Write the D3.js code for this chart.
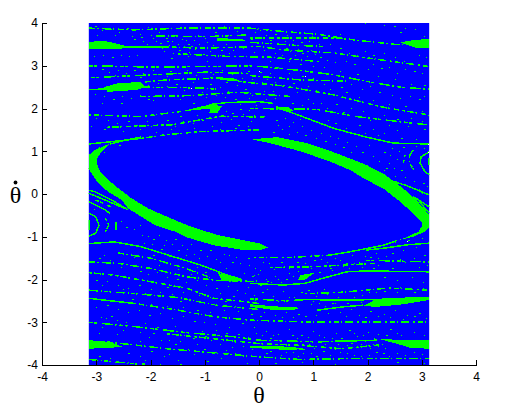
<!DOCTYPE html>
<!-- Phase portrait of the driven pendulum: basin map over theta / theta-dot -->
<meta charset="utf-8">
<style>
    body { margin: 0; background: white; }
    .axis text { font-family: "Liberation Sans", Arial, sans-serif; font-size: 12px; fill: black; }
    .axis path, .axis line { fill: none; stroke: black; shape-rendering: crispEdges; }
    .label { font-family: "Liberation Serif", serif; font-size: 24px; fill: black; }
</style>
<body>
<svg class="chart"></svg>
<script src="https://cdn.jsdelivr.net/npm/d3@7"></script>
<script>

var tickValues = [-4, -3, -2, -1, 0, 1, 2, 3, 4];
var tickLabels = ["-4", "-3", "-2", "-1", "0", "1", "2", "3", "4"];
var imageExtent = [-3.1416, 3.1416];

// Solid green regions, [theta, thetaDot]
var crescentLower = [[-3.14,.91],[-3.02,1.03],[-2.84,1.13],[-2.75,1.17],[-2.9,.99],[-2.99,.83],[-2.99,.72],[-2.93,.52],[-2.78,.33],[-2.59,.13],[-2.35,-.1],[-2.04,-.34],[-1.55,-.61],[-1.32,-.73],[-.77,-.96],[.03,-1.16],[.16,-1.25],[.03,-1.31],[-.34,-1.3],[-.83,-1.2],[-1.32,-1.02],[-1.55,-.88],[-1.92,-.73],[-2.22,-.49],[-2.41,-.34],[-2.53,-.14],[-2.78,.05],[-2.96,.25],[-3.11,.52],[-3.14,.6]];
var crescentUpper = [[-.135,1.28],[.33,1.33],[.88,1.19],[1.37,.98],[1.68,.83],[1.98,.68],[2.29,.48],[2.41,.37],[2.66,.13],[2.9,-.14],[3.06,-.37],[3.14,-.49],[3.14,-.78],[3.06,-.88],[2.84,-1],[2.54,-1.09],[2.72,-1.01],[2.94,-.88],[3,-.76],[3,-.65],[2.84,-.45],[2.6,-.18],[2.29,.13],[1.98,.33],[1.68,.56],[1.31,.76],[.76,1],[.2,1.19]];
var blobs = [
    [[2.6,3.55],[2.85,3.6],[3.14,3.63],[3.14,3.42],[2.9,3.42],[2.75,3.48]],
    [[-3.14,3.55],[-2.91,3.59],[-2.73,3.55],[-2.48,3.47],[-2.42,3.42],[-2.68,3.38],[-3.14,3.39]],
    [[-2.86,2.5],[-2.61,2.59],[-2.18,2.62],[-2.12,2.53],[-2.18,2.45],[-2.42,2.42],[-2.79,2.39]],
    [[-.71,2.73],[-.45,2.7],[-.3,2.62],[-.71,2.67]],
    [[-.77,3.65],[-.3,3.62],[-.25,3.58],[-.77,3.59]],
    [[-1.44,1.93],[-.92,2.09],[-.68,2.06],[-.77,1.89],[-.92,1.89],[-.89,2]],
    [[.31,2.05],[.55,2.03],[.63,1.95],[.45,1.95],[.31,2]],
    [[-.75,-1.85],[-.31,-1.99],[-.31,-2.03],[-.55,-2.05],[-.7,-2]],
    [[.76,-1.9],[1.03,-1.84],[.85,-2],[.72,-2.02]],
    [[2.17,-2.45],[2.72,-2.42],[3.14,-2.41],[3.14,-2.48],[2.66,-2.58],[2.17,-2.64],[1.92,-2.62]],
    [[-.17,-2.58],[.33,-2.63],[.76,-2.66],[.63,-2.72],[.33,-2.72],[-.17,-2.64]],
    [[-3.14,-3.42],[-2.9,-3.44],[-2.7,-3.48],[-2.5,-3.58],[-2.8,-3.6],[-3.14,-3.62]],
    [[2.17,-3.38],[2.66,-3.42],[3.14,-3.42],[3.14,-3.62],[2.78,-3.6],[2.54,-3.5]],
    [[.05,-3.55],[.4,-3.56],[.85,-3.62],[.6,-3.65],[.05,-3.62]]
];

// Thin continuous filaments
var solidWisps = [
    [[-2.75,1.17],[-2.47,1.26],[-2.18,1.33]],
    [[-3.14,1.17],[-2.67,1.23],[-2.18,1.3]],
    [[-.92,2.09],[-.58,2.14],[0,2.16],[.26,2.12]],
    [[.31,2.03],[.63,1.89],[1.37,1.54],[1.98,1.33],[2.48,1.19],[3.14,1.17]],
    [[3.14,.99],[2.99,.87],[2.97,.72],[3.06,.52],[3.14,.45]],
    [[3.13,.84],[3.13,.68]],
    [[-3.01,-.53],[-2.95,-.73],[-3.01,-.92],[-3.14,-.99]],
    [[-3.14,-.45],[-3.01,-.53]],
    [[-3.13,-.61],[-3.13,-.84]],
    [[2.54,-1.09],[2.29,-1.2],[1.68,-1.35],[1.31,-1.43]],
    [[3.14,-1.15],[2.72,-1.19],[2.29,-1.27],[1.98,-1.31]],
    [[-3.14,-1.16],[-2.67,-1.12],[-2.18,-1.23],[-1.57,-1.47],[-1.08,-1.66],[-.58,-1.9],[-.31,-2]],
    [[2.94,-.14],[3.06,-.34],[3.14,-.45]],
    [[.85,-2.09],[1.15,-1.98],[1.62,-1.82],[1.98,-1.8],[3.14,-1.82]],
    [[-.17,-2.09],[.45,-2.13],[.85,-2.09]],
    [[-3.14,3.47],[-2.42,3.44],[-1.69,3.44]],
    [[2.17,-3.42],[1.4,-3.44]],
    [[-3.14,2.44],[-2.8,2.46]],
    [[-3.14,-2.44],[-2.3,-2.56]],
    [[-.17,-3.58],[.2,-3.58],[.63,-3.6],[.85,-3.64]],
    [[.85,-2.47],[1.55,-2.48],[2.17,-2.47]],
    [[1.06,-2.72],[1.55,-2.64],[1.92,-2.6]],
    [[-2.41,-.37],[-2.72,-.14],[-3.02,.05],[-3.14,.09]],
    [[-3.14,.02],[-2.84,-.14],[-2.41,-.37]],
    [[-3.14,-.18],[-2.84,-.37],[-2.75,-.45]],
    [[2.38,.33],[2.69,.21],[3.14,-.02]],
    [[2.84,-.06],[3.14,-.3]]
];

// Broken filaments
var brokenStreaks = [
    [[-3.14,3.88],[-2.3,3.84],[-1.38,3.88],[-.17,3.88],[.45,3.8],[1.06,3.74],[1.78,3.6],[2.5,3.5],[3.14,3.5]],
    [[-.17,3.65],[.45,3.65],[1.4,3.65],[1.8,3.6]],
    [[-.17,3.55],[.63,3.48],[1.2,3.45]],
    [[-1.69,3.44],[-1.07,3.41],[0,3.45],[.45,3.37],[1.37,3.3],[2.29,3.13],[3.14,2.98]],
    [[-3.14,3],[-2,2.97],[-1,2.98],[-.17,3],[.15,2.97],[.75,2.89],[1.37,2.79],[2,2.63],[2.6,2.5],[3.14,2.45]],
    [[-2.1,2.62],[-1.7,2.67],[-1,2.7],[-.7,2.72]],
    [[-.3,2.62],[.45,2.53],[1.37,2.32],[2.29,2.03],[3.14,1.85]],
    [[-2.18,2.5],[-1.01,2.48],[-.8,2.45]],
    [[-3.14,1.85],[-2.18,1.81],[-1.69,1.89],[-1.44,1.93]],
    [[-.17,2],[1.06,1.98],[1.8,1.81],[2.6,1.69],[3.1,1.62]],
    [[-.17,2.77],[.75,2.67],[1.6,2.64]],
    [[-2.18,1.3],[-1.75,1.38],[-1.07,1.46],[0,1.5]],
    [[2.84,1.03],[2.77,.88],[2.78,.72],[2.89,.48]],
    [[2.69,.91],[2.66,.72]],
    [[-3.01,-.14],[-2.73,-.3]],
    [[-3.14,.6],[-2.98,.4]],
    [[-2.83,-.57],[-2.77,-.73],[-2.83,-.88]],
    [[-2.64,-.65],[-2.64,-.84]],
    [[-.1,-1.48],[.63,-1.48],[1.31,-1.43]],
    [[1.98,-1.55],[3.14,-1.59]],
    [[-3.14,-1.59],[-2.61,-1.62],[-2,-1.74],[-1.32,-1.94],[-.77,-2.02],[0,-2.05]],
    [[-3.14,-1.84],[-2.67,-1.9],[-2,-2.05],[-1.32,-2.21],[-.83,-2.44],[0,-2.56]],
    [[-3.14,-2.25],[-2.3,-2.33],[-1.5,-2.42],[-.8,-2.6],[0,-2.7]],
    [[-2.3,-2.56],[-1.57,-2.7],[-.83,-2.87],[-.17,-2.95],[.75,-2.99],[1.68,-2.99],[3.1,-2.99]],
    [[-3.14,-3],[-2.3,-3.1],[-1.44,-3.23],[-.46,-3.34],[0,-3.42],[.6,-3.44],[1.06,-3.46],[2.17,-3.42]],
    [[-2.8,-3.46],[-1.69,-3.62],[0,-3.81],[.75,-3.87],[1.68,-3.85],[3.14,-3.85]],
    [[-1.69,-3.27],[0,-3.5],[.75,-3.54],[1.54,-3.62],[2.29,-3.52]],
    [[-3.14,-3.87],[-2.3,-3.97],[-2.1,-3.98]],
    [[.85,-2.33],[1.5,-2.3],[2.4,-2.2],[3.14,-2.25]],
    [[-.17,-2.45],[.5,-2.5],[.85,-2.47]],
    [[-2.6,-1.38],[-2,-1.5],[-1.4,-1.72],[-.9,-1.95]],
    [[.2,-1.72],[1,-1.7],[2.2,-1.62]],
    [[-1.9,3.7],[-1,3.68],[-.2,3.72]],
    [[-1.5,3.28],[-.6,3.22],[.2,3.2],[1.1,3.1]],
    [[-3.1,2.72],[-2.1,2.78],[-1,2.85],[-.2,2.82]],
    [[-2.2,2.28],[-1.3,2.3],[-.4,2.38],[.6,2.28]],
    [[-2.8,1.56],[-1.6,1.62],[-.7,1.82],[.1,1.8]]
];

// Isolated points, one list per quadrant
var specksUpperLeft = [[-3.02,3.92],[-2.9,3.83],[-2.72,3.86],[-2.58,3.8],[-2.44,3.88],[-2.2,3.75],[-2.05,3.9],[-1.85,3.79],[-1.72,3.66],[-1.61,3.58],[-1.55,3.71],[-1.42,3.63],[-1.31,3.52],[-1.2,3.61],[-1.12,3.72],[-.95,3.55],[-.82,3.78],[-.64,3.92],[-.4,3.82],[-.28,3.75],[-2.3,3.62],[-2.14,3.57],[-2.06,3.5],[-1.95,3.64],[-1.83,3.53],[-1.76,3.35],[-1.66,3.49],[-1.58,3.3],[-1.48,3.38],[-1.39,3.47],[-1.29,3.33],[-1.18,3.4],[-1.04,3.27],[-.9,3.34],[-.72,3.24],[-.55,3.3],[-.36,3.22],[-.1,3.33],[-3.05,3.22],[-2.88,3.25],[-2.71,3.21],[-2.55,3.26],[-2.4,3.22],[-2.25,3.24],[-2.9,2.92],[-2.77,2.85],[-2.6,2.89],[-2.45,2.82],[-2.3,2.9],[-2.13,2.84],[-1.96,2.91],[-1.8,2.8],[-1.64,2.87],[-1.5,2.83],[-1.33,2.89],[-1.17,2.79],[-1.02,2.86],[-.85,2.81],[-.68,2.89],[-.5,2.8],[-.21,2.87],[-2.05,2.55],[-1.87,2.6],[-1.7,2.52],[-1.53,2.57],[-1.38,2.44],[-1.22,2.62],[-1.05,2.38],[-.9,2.58],[-.72,2.5],[-.58,2.4],[-.4,2.56],[-.25,2.45],[-.12,2.31],[-3.03,2.33],[-2.86,2.29],[-2.7,2.22],[-2.52,2.3],[-2.36,2.25],[-2.2,2.31],[-2.04,2.23],[-3,1.78],[-2.78,1.72],[-2.61,1.66],[-2.42,1.7],[-2.24,1.62],[-2.06,1.7],[-1.88,1.64],[-1.7,1.72],[-1.55,1.6],[-1.4,1.7],[-1.21,1.66],[-1.05,1.74],[-.87,1.6],[-.7,1.68],[-.52,1.76],[-.38,1.62],[-.15,1.7],[-.3,1.88],[-.18,1.97],[-.5,1.9],[-3.1,1.6],[-1.9,1.46],[-1.62,1.52],[-1.35,1.42],[-1.2,1.55],[-.95,1.48],[-.72,1.52],[-.45,1.55],[-.2,1.58],[-2.5,1.26],[-2.33,1.31],[-2.58,1.15],[-2.86,.99],[-2.95,1.1],[-2.35,3.7],[-2.18,3.68],[-2,3.72],[-1.9,3.58],[-1.78,3.42],[-1.7,3.58],[-1.5,3.52],[-1.45,3.28],[-1.34,3.6],[-1.25,3.46],[-1.1,3.52],[-1,3.64],[-.85,3.48],[-.7,3.38],[-.6,3.5],[-.48,3.36],[-.3,3.42],[-.15,3.62],[-.08,3.78],[-2.98,3.72],[-2.66,3.72],[-1.62,3.18],[-1.3,3.22],[-.95,3.12],[-2.65,2.78],[-2.2,2.74],[-1.7,2.76],[-1.4,2.72],[-.9,2.74],[-.6,2.62],[-.32,2.72],[-.12,2.68],[-2.9,2.14],[-2.55,2.12],[-1.95,2.2],[-1.62,2.32],[-1.45,2.22],[-1.22,2.14],[-.98,2.26],[-.8,2.32],[-.62,2.26],[-.45,2.22],[-.35,2.1],[-.18,2.25],[-.05,2.08],[-2.85,1.52],[-2.5,1.48],[-2.2,1.52],[-2,1.58],[-1.45,1.82],[-1.15,1.85],[-.6,1.95],[-.9,1.8],[-.35,1.98],[-.1,1.85]];
var specksUpperRight = [[.02,3.83],[.12,3.73],[.3,3.75],[.52,3.72],[.7,3.68],[.98,3.7],[1.2,3.72],[1.5,3.75],[1.95,3.99],[2.3,3.95],[2.48,3.92],[2.7,3.88],[2.88,3.86],[3.05,3.7],[2.6,3.78],[.1,3.38],[.3,3.3],[.42,3.25],[.5,3.42],[.58,3.34],[.66,3.26],[.72,3.4],[.8,3.3],[.88,3.22],[.95,3.36],[1.03,3.28],[1.12,3.2],[1.25,3.14],[1.4,3.08],[1.6,3.12],[1.75,3.03],[1.9,3.2],[2,2.92],[2.1,3.05],[2.25,2.95],[2.4,2.98],[2.55,2.82],[2.7,2.93],[2.85,2.88],[3,2.82],[3.08,3.2],[2.95,3.26],[.02,2.86],[.2,2.82],[.4,2.74],[.55,2.83],[.8,2.76],[1,2.72],[1.2,2.58],[1.35,2.66],[1.52,2.5],[1.7,2.57],[1.9,2.46],[2.05,2.52],[2.22,2.38],[2.45,2.32],[2.6,2.25],[2.78,2.3],[2.95,2.22],[3.05,2.3],[.1,2.4],[.25,2.42],[.5,2.3],[.7,2.38],[.9,2.22],[1.15,2.13],[1.42,2.1],[1.7,2.02],[1.92,1.95],[2.3,1.85],[2.55,1.75],[2.8,1.78],[3,1.7],[.1,1.82],[.32,1.72],[.48,1.78],[.62,1.68],[.8,1.6],[.95,1.72],[1.1,1.65],[1.28,1.72],[1.6,1.55],[1.85,1.62],[2.1,1.52],[2.3,1.42],[2.55,1.5],[.25,1.45],[.42,1.52],[.55,1.4],[.7,1.46],[.85,1.38],[.96,1.5],[1.05,1.32],[1.15,1.42],[1.22,1.24],[1.3,1.35],[1.4,1.18],[1.46,1.32],[1.55,1.1],[1.63,1.22],[1.7,.98],[1.78,1.12],[1.9,.98],[2.02,1.14],[2.1,.9],[2.22,.78],[2.3,.98],[2.4,.72],[2.48,.6],[2.55,.82],[2.62,.55],[2.5,.42],[2.7,.4],[2.85,.3],[3.02,.25],[2.95,.12],[3.1,.18],[.05,3.55],[.2,3.6],[.35,3.52],[.48,3.58],[.62,3.6],[.78,3.55],[.92,3.58],[1.1,3.52],[1.3,3.5],[1.5,3.42],[1.65,3.3],[1.8,3.25],[1.95,3.35],[2.1,3.25],[2.3,3.3],[2.5,3.2],[2.68,3.12],[2.82,3.05],[.05,3.2],[.2,3.12],[.55,3.1],[.75,3.05],[1,3],[1.2,2.98],[1.5,2.88],[1.8,2.8],[2.2,2.75],[2.5,2.68],[2.8,2.58],[3.05,2.55],[.05,2.62],[.15,2.7],[.3,2.62],[.62,2.6],[.9,2.52],[1.05,2.44],[1.3,2.46],[1.6,2.38],[1.85,2.28],[2.1,2.2],[2.4,2.1],[2.7,2.05],[3,1.95],[.12,2.22],[.3,2.25],[.6,2.12],[.8,2.08],[1,2.12],[1.25,2.02],[1.55,1.92],[2.05,1.72],[2.4,1.62],[2.75,1.58],[3.05,1.52],[.35,1.62],[.55,1.6],[.75,1.75],[1.4,1.65],[1.7,1.45],[1.95,1.42],[2.2,1.38],[2.62,1.3],[2.9,1.28],[2.45,1.08],[2.58,1],[2.65,1.1],[2.9,1.12],[3.05,1.08],[2.42,.92],[2.35,.6],[2.52,.3],[2.3,.55],[3,.02],[2.72,.02],[2.58,.05]];
var specksLowerLeft = [[-3.05,-.35],[-2.55,-.62],[-2.45,-.78],[-2.3,-.82],[-2.2,-.72],[-2.05,-.98],[-1.95,-1.06],[-1.85,-.95],[-1.72,-1.08],[-1.6,-1.18],[-1.5,-1.3],[-1.42,-1.2],[-1.32,-1.28],[-1.2,-1.4],[-1.08,-1.32],[-.95,-1.45],[-.8,-1.52],[-.65,-1.4],[-.5,-1.58],[-.35,-1.62],[-.18,-1.65],[-2.12,-1.15],[-1.8,-1.28],[-1.65,-1.45],[-1.4,-1.55],[-1.15,-1.7],[-2.95,-1.5],[-2.75,-1.55],[-2.55,-1.7],[-2.36,-1.66],[-2.2,-1.8],[-2.05,-1.88],[-1.88,-1.83],[-1.7,-1.95],[-1.52,-1.98],[-1.34,-2.06],[-1.15,-2.02],[-.98,-2.12],[-.8,-2.2],[-.58,-2.16],[-.4,-2.24],[-.2,-2.18],[-3,-2],[-2.8,-2.04],[-2.6,-2.12],[-2.42,-2.2],[-2.22,-2.14],[-2,-2.22],[-1.82,-2.3],[-1.6,-2.34],[-1.45,-2.5],[-1.22,-2.48],[-1.02,-2.56],[-.9,-2.4],[-.62,-2.5],[-.35,-2.48],[-.1,-2.36],[-3,-2.65],[-2.8,-2.6],[-2.6,-2.7],[-2.42,-2.76],[-2.22,-2.72],[-2.02,-2.82],[-1.82,-2.78],[-1.6,-2.9],[-1.4,-2.85],[-1.2,-2.96],[-1.02,-3],[-.82,-3.04],[-.55,-3.1],[-.32,-3.02],[-.1,-3.12],[-2.92,-2.88],[-2.82,-2.9],[-2.72,-2.86],[-2.62,-2.95],[-2.45,-3],[-2.1,-3.02],[-1.88,-3.1],[-1.72,-3.16],[-1.55,-3.08],[-1.38,-3.3],[-1.22,-3.38],[-1.05,-3.2],[-.88,-3.42],[-.72,-3.5],[-.6,-3.25],[-.45,-3.46],[-.3,-3.55],[-.12,-3.62],[-2.38,-3.5],[-2.2,-3.44],[-2.02,-3.35],[-1.8,-3.42],[-1.55,-3.52],[-2.95,-3.25],[-2.62,-3.28],[-2.2,-3.78],[-2,-3.68],[-1.75,-3.8],[-1.5,-3.88],[-1.2,-3.75],[-.95,-3.9],[-.7,-3.84],[-.45,-3.72],[-.22,-3.95],[-2.95,-3.78],[-2.75,-3.84],[-2.6,-3.92],[-1.82,-3.98],[-1.45,-3.97],[-2.15,-.95],[-1.98,-1.18],[-1.75,-1.2],[-1.55,-1.05],[-1.35,-1.42],[-1.25,-1.18],[-1.1,-1.5],[-.9,-1.3],[-.72,-1.6],[-.55,-1.42],[-.42,-1.48],[-.2,-1.5],[-.08,-1.72],[-2.85,-1.42],[-2.3,-1.48],[-1.95,-1.42],[-1.85,-1.65],[-1.5,-1.75],[-1.25,-1.88],[-1,-1.82],[-.88,-1.72],[-.6,-1.74],[-.28,-1.85],[-.12,-1.92],[-2.9,-2.12],[-2.5,-2.22],[-2.1,-2.32],[-1.7,-2.18],[-1.4,-2.3],[-1.1,-2.36],[-.72,-2.32],[-.48,-2.38],[-.25,-2.32],[-.08,-2.48],[-2.7,-2.48],[-2.35,-2.46],[-2,-2.58],[-1.7,-2.62],[-1.4,-2.65],[-1.15,-2.72],[-.9,-2.75],[-.65,-2.72],[-.38,-2.74],[-.15,-2.8],[-2.9,-3.12],[-2.5,-3.18],[-2.2,-3.22],[-1.95,-3.25],[-1.65,-3.42],[-1.45,-3.44],[-1.15,-3.5],[-1,-3.32],[-.8,-3.18],[-.7,-3.32],[-.5,-3.58],[-.38,-3.28],[-.2,-3.34],[-.05,-3.25],[-1.3,-3.62],[-1.02,-3.62],[-.8,-3.7],[-.6,-3.65],[-.3,-3.78],[-2.42,-3.72],[-2.1,-3.88],[-1.65,-3.74]];
var specksLowerRight = [[3,-1.02],[2.75,-1.08],[2.5,-1.12],[2.35,-1.45],[2.15,-1.38],[2.05,-1.48],[1.72,-1.42],[1.5,-1.55],[1.25,-1.6],[1.02,-1.55],[.85,-1.62],[.55,-1.72],[.72,-1.8],[.4,-1.58],[.18,-1.62],[.02,-1.78],[.3,-1.92],[.5,-1.98],[.12,-1.98],[-.05,-2.02],[.22,-2.06],[.02,-2.12],[-.1,-1.9],[.4,-2.05],[.62,-1.92],[1.3,-1.72],[1.55,-1.68],[1.75,-1.62],[2.2,-1.65],[2.45,-1.72],[2.7,-1.6],[2.95,-1.7],[3.1,-1.65],[2.3,-1.95],[2.55,-2],[2.82,-1.95],[3.02,-2.05],[.05,-2.3],[.25,-2.38],[.45,-2.28],[.65,-2.4],[.9,-2.25],[1.05,-2.38],[1.25,-2.34],[1.45,-2.4],[1.7,-2.28],[1.9,-2.36],[2.15,-2.3],[2.6,-2.18],[2.85,-2.3],[.1,-2.75],[.3,-2.82],[.5,-2.76],[.72,-2.8],[.95,-2.58],[1.1,-2.55],[1.22,-2.62],[1.35,-2.56],[1.5,-2.76],[1.7,-2.7],[1.85,-2.82],[2.05,-2.74],[2.3,-2.8],[2.5,-2.72],[2.72,-2.82],[2.95,-2.78],[.12,-3.2],[.35,-3.28],[.55,-3.16],[.78,-3.3],[1,-3.2],[1.2,-3.34],[1.42,-3.26],[1.65,-3.18],[1.8,-3.32],[2,-3.22],[2.2,-3.28],[2.42,-3.16],[2.62,-3.3],[2.85,-3.22],[3.05,-3.3],[.2,-3.36],[.45,-3.5],[.7,-3.36],[.92,-3.52],[1.15,-3.55],[1.3,-3.58],[1.45,-3.5],[1.62,-3.54],[1.78,-3.58],[1.95,-3.45],[2.05,-3.6],[2.2,-3.55],[.12,-3.72],[.4,-3.76],[.62,-3.7],[.82,-3.72],[1.05,-3.8],[1.3,-3.76],[1.62,-3.72],[1.88,-3.78],[2.15,-3.7],[2.4,-3.8],[2.7,-3.76],[3,-3.74],[.3,-3.95],[.8,-3.93],[1.4,-3.97],[2,-3.95],[2.55,-3.92],[3.05,-3.95],[2.9,-1.25],[2.65,-1.3],[2.45,-1.38],[2.2,-1.5],[1.95,-1.44],[1.85,-1.58],[1.6,-1.62],[1.4,-1.5],[1.15,-1.52],[.95,-1.72],[.7,-1.6],[.28,-1.75],[.08,-1.6],[-.02,-1.88],[.15,-2.03],[.35,-1.98],[.55,-1.85],[.9,-1.88],[1.1,-1.82],[1.35,-1.78],[1.65,-1.74],[1.9,-1.7],[2.1,-1.72],[2.35,-1.56],[2.6,-1.52],[2.85,-1.5],[3.05,-1.42],[.15,-2.22],[.35,-2.5],[.55,-2.42],[.78,-2.3],[1,-2.5],[1.2,-2.22],[1.4,-2.55],[1.62,-2.55],[1.75,-2.42],[1.88,-2.52],[2.02,-2.3],[2.3,-2.28],[2.55,-2.3],[2.75,-2.22],[3.02,-2.2],[.02,-2.85],[.2,-2.7],[.42,-2.88],[.62,-2.88],[.85,-2.85],[1.05,-2.82],[1.28,-2.78],[1.6,-2.85],[1.95,-2.88],[2.2,-2.85],[2.42,-2.88],[2.65,-2.92],[2.85,-2.85],[3.08,-2.9],[.05,-3.3],[.25,-3.3],[.6,-3.3],[.9,-3.35],[1.1,-3.3],[1.35,-3.36],[1.52,-3.36],[1.75,-3.25],[1.92,-3.3],[2.12,-3.36],[2.35,-3.3],[2.55,-3.25],[.3,-3.42],[.55,-3.52],[.8,-3.5],[1.02,-3.6],[1.22,-3.5],[1.4,-3.62],[1.7,-3.48],[1.88,-3.52],[2.1,-3.5],[2.32,-3.6],[.2,-3.68],[.5,-3.7],[.72,-3.78],[.95,-3.72],[1.18,-3.68],[1.5,-3.7],[1.75,-3.76],[2.02,-3.76],[2.28,-3.72],[2.55,-3.72],[2.85,-3.7]];
var whiteSpecks = [[-1.26,2.49],[0,2.87],[.85,2.75],[3.12,1.18],[3.13,1.04],[3.12,.98],[2.72,-1.1]];

// Chart size and margins in the window
var margin = { top: 23, right: 35, left: 42, bottom: 47 };
var width = 511 - margin.left - margin.right;
var height = 412 - margin.top - margin.bottom;

var svg = d3.select(".chart")
    .attr("width", 511)
    .attr("height", 412)
    .style("display", "block");

var chart = svg.append("g")
    .attr("transform", "translate(" + margin.left + "," + margin.top + ")");

var x = d3.scaleLinear().domain([-4, 4]).range([0, width]);
var y = d3.scaleLinear().domain([-4, 4]).range([height, 0]);

svg.append("defs").append("clipPath").attr("id", "image-clip")
  .append("rect")
    .attr("x", x(imageExtent[0]))
    .attr("y", 0)
    .attr("width", x(imageExtent[1]) - x(imageExtent[0]))
    .attr("height", height);

var map = chart.append("g").attr("clip-path", "url(#image-clip)");

// Blue background
map.append("rect")
    .attr("x", x(imageExtent[0]))
    .attr("y", 0)
    .attr("width", x(imageExtent[1]) - x(imageExtent[0]))
    .attr("height", height)
    .attr("fill", "#0000ff");

var line = d3.line().x(function(d) { return x(d[0]); }).y(function(d) { return y(d[1]); });

map.selectAll("path.blob")
    .data([crescentLower, crescentUpper].concat(blobs))
  .enter().append("path")
    .attr("class", "blob")
    .attr("d", function(d) { return line(d) + "Z"; })
    .attr("fill", "#00ff00")
    .attr("shape-rendering", "crispEdges");

map.selectAll("path.wisp")
    .data(solidWisps)
  .enter().append("path")
    .attr("class", "wisp")
    .attr("d", line)
    .attr("fill", "none")
    .attr("stroke", "#00ff00")
    .attr("stroke-width", 1.5)
    .attr("shape-rendering", "crispEdges");

// A handful of dash patterns so the breaks do not line up
var dashes = ["6 2 2 3 9 2 1 4", "3 2 7 1 2 4 5 3", "9 3 1 2 4 1 2 5", "2 3 5 2 1 3 8 4", "4 1 3 5 11 2 2 3"];

map.selectAll("path.streak")
    .data(brokenStreaks)
  .enter().append("path")
    .attr("class", "streak")
    .attr("d", line)
    .attr("fill", "none")
    .attr("stroke", "#00ff00")
    .attr("stroke-width", 1.5)
    .attr("stroke-dasharray", function(d, i) { return dashes[i % dashes.length]; })
    .attr("shape-rendering", "crispEdges");

map.selectAll("rect.speck")
    .data(specksUpperLeft.concat(specksUpperRight, specksLowerLeft, specksLowerRight))
  .enter().append("rect")
    .attr("class", "speck")
    .attr("x", function(d) { return Math.round(x(d[0])); })
    .attr("y", function(d) { return Math.round(y(d[1])); })
    .attr("width", function(d, i) { return i % 4 == 0 ? 2 : 1; })
    .attr("height", 1)
    .attr("fill", "#00ff00")
    .attr("shape-rendering", "crispEdges");

map.selectAll("rect.white")
    .data(whiteSpecks)
  .enter().append("rect")
    .attr("class", "white")
    .attr("x", function(d) { return Math.round(x(d[0])); })
    .attr("y", function(d) { return Math.round(y(d[1])); })
    .attr("width", 1)
    .attr("height", 1)
    .attr("fill", "white")
    .attr("shape-rendering", "crispEdges");

// Axes, ticks point inward
chart.append("g")
    .attr("class", "x axis")
    .attr("transform", "translate(0," + height + ")")
    .call(d3.axisBottom(x)
        .tickValues(tickValues)
        .tickFormat(function(d, i) { return tickLabels[i]; })
        .tickSizeInner(-5)
        .tickSizeOuter(0)
        .tickPadding(7));

chart.append("g")
    .attr("class", "y axis")
    .call(d3.axisLeft(y)
        .tickValues(tickValues)
        .tickFormat(function(d, i) { return tickLabels[i]; })
        .tickSizeInner(-5)
        .tickSizeOuter(0)
        .tickPadding(4));

// Axis labels
chart.append("text")
    .attr("class", "label")
    .attr("x", x(0))
    .attr("y", height + 38)
    .style("text-anchor", "middle")
    .text("θ");

var thetaDotLabel = chart.append("g").attr("transform", "translate(-26.5," + (y(0) + 9) + ")");
thetaDotLabel.append("text")
    .attr("class", "label")
    .style("text-anchor", "middle")
    .text("θ");
// the derivative dot above the theta
thetaDotLabel.append("circle")
    .attr("cy", -20.5)
    .attr("r", 1.9)
    .attr("fill", "black");

</script>
</body>
